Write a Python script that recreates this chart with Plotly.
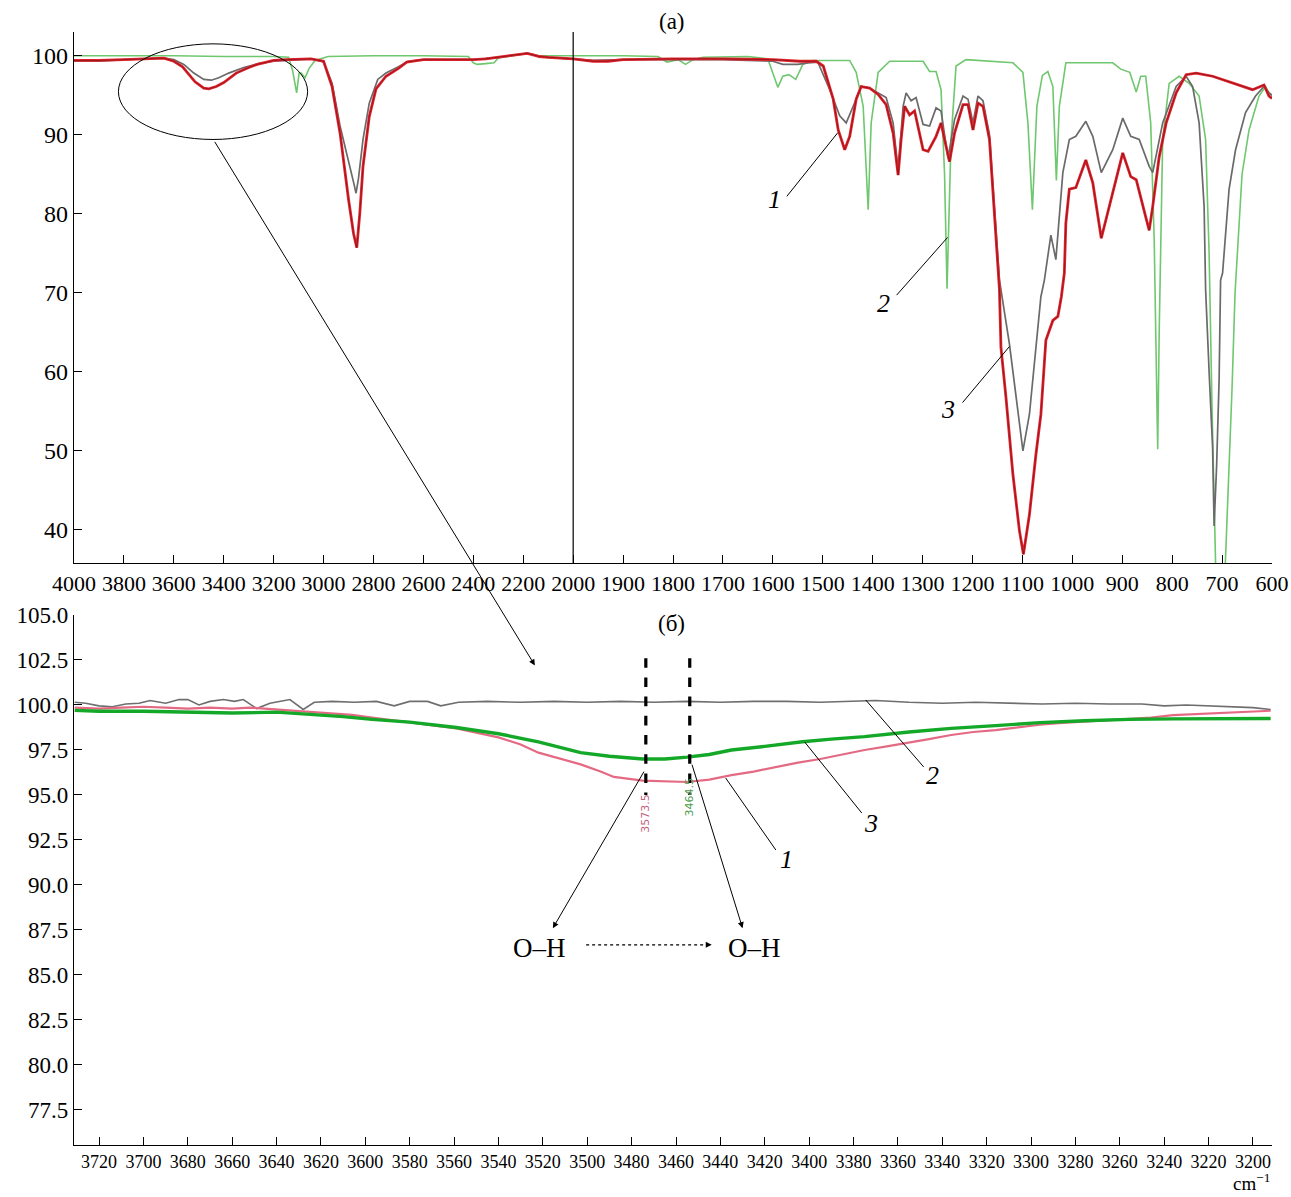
import plotly.graph_objects as go

# ---------------- (a) full IR spectra, 4000-600 cm-1 ----------------
# the wavenumber axis changes scale at 2000 cm-1 (200 per division above, 100 per division below)
red_w = [4000, 3900, 3800, 3700, 3640, 3600, 3565, 3515, 3480, 3460, 3430, 3400, 3350, 3300, 3266,
         3200, 3150, 3050, 3000, 2966, 2934, 2900, 2880, 2867, 2855, 2842, 2817, 2790, 2750, 2700,
         2667, 2600, 2500, 2400, 2350, 2300, 2250, 2200, 2184, 2160, 2136, 2100, 2050, 2000, 1960,
         1930, 1900, 1800, 1700, 1600, 1546, 1513, 1499, 1479, 1469, 1456, 1446, 1433, 1423, 1406,
         1389, 1373, 1359, 1349, 1343, 1336, 1326, 1316, 1299, 1289, 1273, 1263, 1256, 1246, 1236,
         1219, 1209, 1199, 1189, 1179, 1166, 1153, 1146, 1143, 1133, 1119, 1106, 1098, 1086, 1073,
         1063, 1053, 1039, 1029, 1022, 1016, 1013, 1006, 993, 973, 959, 942, 926, 899, 883, 872,
         853, 846, 839, 826, 812, 792, 772, 752, 719, 679, 639, 616, 606, 600]
red_t = [99.4, 99.4, 99.5, 99.6, 99.7, 99.3, 98.6, 96.7, 95.9, 95.8, 96.1, 96.6, 97.8, 98.5, 98.9,
         99.4, 99.5, 99.6, 99.3, 96.1, 90.2, 81.8, 77.5, 75.7, 80.0, 86.0, 92.3, 95.8, 97.4, 98.4,
         99.2, 99.5, 99.5, 99.5, 99.6, 99.8, 100.0, 100.2, 100.3, 100.1, 99.9, 99.8, 99.7, 99.6, 99.3,
         99.3, 99.5, 99.6, 99.6, 99.5, 99.3, 99.3, 98.7, 94.5, 90.6, 88.1, 89.8, 94.5, 96.1, 95.9,
         95.1, 93.8, 90.2, 84.9, 89.4, 93.6, 92.5, 93.0, 88.1, 87.9, 89.8, 91.5, 89.4, 86.6, 90.2,
         93.8, 93.8, 90.6, 94.0, 93.6, 89.4, 76.7, 70.4, 63.1, 56.8, 47.0, 39.9, 36.9, 41.9, 49.5,
         54.6, 64.0, 66.5, 67.0, 69.5, 72.5, 78.8, 83.1, 83.3, 86.8, 83.9, 76.9, 80.9, 87.7, 84.7, 84.3,
         79.6, 77.9, 80.9, 87.2, 91.5, 95.3, 97.6, 97.8, 97.4, 96.5, 95.7, 96.3, 94.9, 94.6]

gray_w = [4000, 3900, 3800, 3700, 3640, 3600, 3560, 3520, 3480, 3450, 3420, 3380, 3320, 3260, 3200,
          3100, 3050, 3000, 2966, 2934, 2900, 2880, 2870, 2860, 2842, 2817, 2783, 2750, 2700, 2660,
          2600, 2500, 2400, 2300, 2250, 2200, 2184, 2160, 2136, 2100, 2000, 1960, 1900, 1700, 1600,
          1580, 1550, 1530, 1510, 1486, 1466, 1453, 1439, 1423, 1406, 1389, 1373, 1359, 1349, 1339,
          1333, 1323, 1313, 1299, 1286, 1273, 1263, 1249, 1236, 1219, 1209, 1199, 1189, 1179, 1166,
          1153, 1146, 1126, 1113, 1099, 1086, 1073, 1063, 1056, 1043, 1033, 1019, 1006, 993, 973,
          959, 942, 919, 899, 883, 866, 846, 839, 819, 792, 772, 759, 746, 736, 733, 726, 719, 716,
          711, 706, 703, 699, 686, 673, 653, 633, 616, 606, 600]
gray_t = [99.3, 99.3, 99.5, 99.6, 99.7, 99.5, 98.9, 97.8, 97.0, 96.9, 97.2, 97.8, 98.5, 99.0, 99.3,
          99.5, 99.6, 99.2, 96.5, 91.1, 86.8, 84.0, 82.6, 84.5, 89.4, 94.0, 97.0, 97.8, 98.6, 99.3,
          99.5, 99.5, 99.5, 99.8, 100.0, 100.2, 100.3, 100.1, 99.9, 99.8, 99.6, 99.4, 99.5, 99.5, 99.3,
          98.9, 98.9, 99.1, 99.2, 95.7, 92.4, 91.5, 93.6, 96.1, 95.9, 95.3, 94.7, 91.5, 85.5, 93.6,
          95.3, 94.3, 94.7, 91.3, 91.1, 93.4, 93.0, 87.0, 91.9, 94.9, 94.5, 91.5, 94.9, 94.3, 90.0,
          78.0, 71.6, 63.5, 57.2, 50.0, 54.6, 63.1, 69.5, 71.6, 77.3, 74.2, 85.2, 89.4, 89.8, 91.7,
          89.8, 85.2, 88.1, 92.1, 89.8, 89.4, 86.0, 85.2, 91.5, 96.1, 97.4, 96.1, 91.5, 80.9, 70.4,
          60.0, 50.4, 40.5, 48.0, 58.9, 71.6, 72.5, 83.1, 88.1, 92.8, 94.9, 96.1, 95.3, 95.0]

green_w = [4000, 3800, 3600, 3400, 3200, 3140, 3124, 3108, 3098, 3090, 3074, 3058, 3034, 2982, 2800,
           2600, 2420, 2400, 2385, 2350, 2317, 2300, 2250, 2184, 2136, 2000, 1900, 1830, 1812, 1790,
           1775, 1760, 1740, 1650, 1610, 1590, 1580, 1568, 1554, 1540, 1520, 1446, 1433, 1419, 1413,
           1409, 1403, 1389, 1366, 1299, 1286, 1273, 1263, 1256, 1251, 1247, 1243, 1233, 1213, 1119,
           1099, 1089, 1080, 1071, 1060, 1049, 1039, 1032, 1026, 1013, 919, 903, 885, 872, 863, 853,
           843, 836, 831, 829, 826, 819, 806, 786, 766, 746, 733, 726, 720, 714, 708, 700, 694, 690,
           680, 674, 668, 660, 646, 626, 613, 606, 600]
green_t = [100.0, 100.0, 100.0, 99.9, 99.9, 99.8, 98.1, 95.3, 97.8, 97.8, 97.2, 98.4, 99.4, 99.9, 100.0,
           100.0, 99.9, 99.1, 98.9, 99.0, 99.1, 99.7, 100.0, 100.3, 100.0, 100.0, 100.0, 99.9, 99.2, 99.5,
           98.9, 99.5, 99.8, 99.9, 99.6, 96.0, 97.4, 97.6, 97.0, 98.9, 99.4, 99.4, 97.9, 93.6, 85.0,
           80.5, 91.5, 97.9, 99.3, 99.3, 98.0, 98.0, 95.7, 85.0, 70.5, 80.0, 89.4, 98.7, 99.5, 99.1,
           97.9, 91.5, 80.5, 93.6, 97.5, 98.0, 96.1, 84.2, 93.6, 99.1, 99.1, 98.3, 97.9, 95.4, 97.4, 97.4,
           91.5, 76.7, 60.0, 50.2, 65.0, 89.4, 96.5, 97.4, 96.5, 94.9, 89.4, 75.0, 55.0, 35.0, 22.0,
           25.0, 35.0, 40.0, 58.0, 70.0, 76.0, 85.0, 90.6, 94.9, 96.1, 95.3, 95.0]

top_ticks = [4000, 3800, 3600, 3400, 3200, 3000, 2800, 2600, 2400, 2200, 2000,
             1900, 1800, 1700, 1600, 1500, 1400, 1300, 1200, 1100, 1000, 900, 800, 700, 600]

# ---------------- (б) O-H region, 3730-3190 cm-1 ----------------
b_gray_w = [3731, 3726, 3720, 3714, 3708, 3702, 3697, 3690, 3684, 3680, 3675, 3670, 3664, 3659, 3655,
            3649, 3643, 3638, 3634, 3628, 3623, 3615, 3605, 3595, 3587, 3580, 3572, 3566, 3558, 3545,
            3530, 3515, 3500, 3485, 3470, 3455, 3440, 3425, 3410, 3395, 3380, 3370, 3355, 3340, 3325,
            3310, 3295, 3280, 3265, 3250, 3240, 3230, 3220, 3210, 3200, 3192]
b_gray_t = [100.15, 100.1, 99.95, 99.9, 100.05, 100.1, 100.25, 100.1, 100.3, 100.3, 100.0, 100.2, 100.3,
            100.2, 100.3, 99.8, 100.1, 100.2, 100.3, 99.75, 100.15, 100.2, 100.15, 100.2, 99.95, 100.2,
            100.2, 99.95, 100.15, 100.2, 100.15, 100.2, 100.15, 100.2, 100.15, 100.2, 100.15, 100.2,
            100.2, 100.15, 100.2, 100.25, 100.15, 100.1, 100.15, 100.1, 100.05, 100.1, 100.05, 100.05,
            99.95, 100.0, 99.95, 99.9, 99.85, 99.75]

b_green_w = [3731, 3720, 3700, 3680, 3660, 3640, 3626, 3610, 3597, 3580, 3559, 3540, 3522, 3503, 3490,
             3475, 3465, 3455, 3445, 3435, 3420, 3403, 3390, 3375, 3355, 3336, 3316, 3296, 3276, 3256,
             3236, 3216, 3192]
b_green_t = [99.7, 99.65, 99.65, 99.6, 99.55, 99.6, 99.5, 99.35, 99.2, 99.05, 98.75, 98.4, 97.95, 97.35,
             97.15, 97.0, 97.0, 97.1, 97.25, 97.5, 97.7, 97.96, 98.1, 98.24, 98.5, 98.7, 98.85, 99.02,
             99.12, 99.2, 99.23, 99.24, 99.25]

b_red_w = [3731, 3720, 3710, 3700, 3690, 3680, 3670, 3660, 3652, 3640, 3630, 3620, 3606, 3597, 3580,
           3559, 3540, 3530, 3522, 3512, 3503, 3494, 3488, 3475, 3465, 3455, 3445, 3435, 3425, 3415,
           3405, 3395, 3385, 3375, 3365, 3356, 3346, 3336, 3326, 3316, 3306, 3296, 3286, 3276, 3266,
           3256, 3246, 3236, 3226, 3216, 3205, 3192]
b_red_t = [99.85, 99.8, 99.85, 99.9, 99.85, 99.8, 99.85, 99.8, 99.85, 99.75, 99.65, 99.55, 99.45, 99.3,
           99.05, 98.7, 98.2, 97.8, 97.35, 97.0, 96.7, 96.3, 96.0, 95.8, 95.75, 95.72, 95.85, 96.1, 96.3,
           96.57, 96.8, 97.0, 97.25, 97.5, 97.7, 97.87, 98.1, 98.33, 98.5, 98.6, 98.75, 98.9, 99.0,
           99.07, 99.15, 99.2, 99.3, 99.44, 99.5, 99.57, 99.63, 99.68]

peak_lines = [3473.6, 3453.8]
peak_labels = ["3573.5", "3464.5"]


def to_u(w):
    """Map a wavenumber onto the split axis of panel (a)."""
    return (4000 - w) / 200 if w >= 2000 else 10 + (2000 - w) / 100


def us(ws):
    return [to_u(w) for w in ws]


SERIF = "Liberation Serif"
fig = go.Figure()

# panel (a)
fig.add_trace(go.Scatter(x=us(green_w), y=green_t, mode="lines",
                         line=dict(color="#6fc76f", width=1.6), xaxis="x", yaxis="y"))
fig.add_trace(go.Scatter(x=us(gray_w), y=gray_t, mode="lines",
                         line=dict(color="#6a6a6a", width=1.7), xaxis="x", yaxis="y"))
fig.add_trace(go.Scatter(x=us(red_w), y=red_t, mode="lines",
                         line=dict(color="#e3232d", width=2.8), xaxis="x", yaxis="y"))
fig.add_trace(go.Scatter(x=us(red_w), y=red_t, mode="lines",
                         line=dict(color="rgba(60,10,10,0.55)", width=0.8), xaxis="x", yaxis="y"))

# panel (б)
fig.add_trace(go.Scatter(x=b_gray_w, y=b_gray_t, mode="lines",
                         line=dict(color="#6e6e6e", width=1.6), xaxis="x2", yaxis="y2"))
fig.add_trace(go.Scatter(x=b_red_w, y=b_red_t, mode="lines",
                         line=dict(color="#e46a84", width=2.2), xaxis="x2", yaxis="y2"))
fig.add_trace(go.Scatter(x=b_green_w, y=b_green_t, mode="lines",
                         line=dict(color="#14a828", width=3.4), xaxis="x2", yaxis="y2"))

shapes = []
# scale break marker at 2000 cm-1
shapes.append(dict(type="line", xref="x", yref="y domain", x0=to_u(2000), x1=to_u(2000), y0=0, y1=1,
                   line=dict(color="black", width=1.2)))
# ellipse around the O-H band
shapes.append(dict(type="circle", xref="x", yref="y", x0=to_u(3822), x1=to_u(3064), y0=89.4, y1=101.5,
                   line=dict(color="black", width=1)))


def leader(xref, yref, x0, y0, x1, y1):
    shapes.append(dict(type="line", xref=xref, yref=yref, x0=x0, y0=y0, x1=x1, y1=y1,
                       line=dict(color="black", width=1)))


leader("x", "y", to_u(1572), 82.2, to_u(1470), 90.25)
leader("x", "y", to_u(1352), 69.7, to_u(1250), 77.0)
leader("x", "y", to_u(1220), 56.1, to_u(1126), 63.2)
leader("x2", "y2", 3348.4, 96.56, 3374.5, 100.28)
leader("x2", "y2", 3376.3, 94.0, 3402.0, 97.94)
leader("x2", "y2", 3415.0, 91.94, 3437.6, 95.94)
for w in peak_lines:
    shapes.append(dict(type="line", xref="x2", yref="y2", x0=w, x1=w, y0=102.6, y1=95.0,
                       line=dict(color="black", width=3.2, dash="dash")))
# dotted O-H shift arrow
shapes.append(dict(type="line", xref="x2", yref="y2", x0=3500.5, x1=3447, y0=86.67, y1=86.67,
                   line=dict(color="black", width=1.2, dash="dot")))

ann = []


def label(text, x, y, xref, yref, size=26, italic=False, color="black", **kw):
    if italic:
        text = "<i>%s</i>" % text
    ann.append(dict(text=text, x=x, y=y, xref=xref, yref=yref, showarrow=False,
                    font=dict(family=SERIF, size=size, color=color), **kw))


label("(a)", 0.499, 1.009, "paper", "paper", size=23, xanchor="center", yanchor="middle")
label("(б)", 0.499, 0.469, "paper", "paper", size=23, xanchor="center", yanchor="middle")
label("1", to_u(1596), 81.8, "x", "y", italic=True)
label("2", to_u(1378), 68.7, "x", "y", italic=True)
label("3", to_u(1250), 55.2, "x", "y", italic=True)
label("2", 3344.3, 96.1, "x2", "y2", italic=True)
label("3", 3372.3, 93.44, "x2", "y2", italic=True)
label("1", 3410.0, 91.4, "x2", "y2", italic=True)
label("O–H", 3521.4, 86.5, "x2", "y2", size=27)
label("O–H", 3424.5, 86.5, "x2", "y2", size=27)
label("cm<sup>−1</sup>", 1.0, -0.0455, "paper", "paper", size=19,
      xanchor="right", yanchor="bottom")

for w, t, c, yy in zip(peak_lines, peak_labels, ["#c4647e", "#4f9a4f"], [94.0, 94.9]):
    ann.append(dict(text=t, x=w, y=yy, xref="x2", yref="y2", showarrow=False, textangle=-90,
                    font=dict(family="DejaVu Sans", size=11, color=c)))


def arrow(x, y, ax, ay, head=2):
    ann.append(dict(text="", x=x, y=y, xref="x2", yref="y2", ax=ax, ay=ay, axref="pixel", ayref="pixel",
                    showarrow=True, arrowhead=head, arrowsize=1.2, arrowwidth=1, arrowcolor="black",
                    standoff=0, startstandoff=0))


arrow(3523.6, 102.2, -321, -525)   # from the ellipse in panel (a)
arrow(3515.5, 87.6, 92, -158)
arrow(3430.0, 87.6, -51, -165)
arrow(3443.9, 86.67, -7, 0)

axis_common = dict(showline=True, linecolor="black", linewidth=1.2, ticks="inside", ticklen=8,
                   tickcolor="black", tickwidth=1, showgrid=False, zeroline=False, automargin=False,
                   tickfont=dict(family=SERIF, size=23, color="black"))

fig.update_layout(
    width=1291, height=1197, autosize=False,
    margin=dict(l=74, r=19, t=32, b=52, autoexpand=False),
    paper_bgcolor="white", plot_bgcolor="white",
    showlegend=False,
    xaxis=dict(axis_common, domain=[0, 1], anchor="y", range=[0, 24], tickmode="array",
               tickvals=us(top_ticks), ticktext=[str(t) for t in top_ticks], tickangle=0,
               tickfont=dict(family=SERIF, size=22, color="black")),
    yaxis=dict(axis_common, domain=[0.5229, 1], anchor="x", range=[35.8, 103.0],
               tickmode="array", tickvals=[40, 50, 60, 70, 80, 90, 100],
               tickfont=dict(family=SERIF, size=24, color="black")),
    xaxis2=dict(axis_common, domain=[0, 1], anchor="y2", range=[3731.3, 3191.4], tick0=3200, dtick=20,
                tickangle=0, tickfont=dict(family=SERIF, size=18, color="black")),
    yaxis2=dict(axis_common, domain=[0, 0.4762], anchor="x2", range=[75.55, 105.0], tick0=77.5, dtick=2.5,
                tickformat=".1f", tickfont=dict(family=SERIF, size=23, color="black")),
    shapes=shapes,
    annotations=ann,
)

fig.write_html("out.html")
